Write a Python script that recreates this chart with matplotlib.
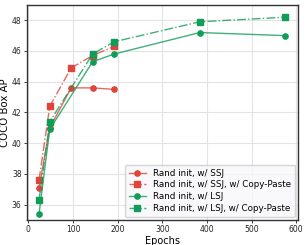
import matplotlib
matplotlib.use("Agg")
import matplotlib.pyplot as plt
from matplotlib.lines import Line2D
from matplotlib.legend_handler import HandlerTuple

epochs_ssj = [24, 48, 96, 144, 192]
ssj = [37.1, 41.0, 43.6, 43.6, 43.5]
ssj_cp = [37.6, 42.4, 44.9, 45.7, 46.3]
epochs_lsj = [24, 48, 144, 192, 384, 576]
lsj = [35.4, 40.9, 45.3, 45.8, 47.2, 47.0]
lsj_cp = [36.3, 41.4, 45.8, 46.6, 47.9, 48.2]

labels = ["Rand init, w/ SSJ", "Rand init, w/ SSJ, w/ Copy-Paste",
          "Rand init, w/ LSJ", "Rand init, w/ LSJ, w/ Copy-Paste"]
red = "#E0443A"
green = "#0F9D58"

fig = plt.figure(figsize=(3.07, 2.45), dpi=100)
ax = fig.add_axes([0.087, 0.102, 0.883, 0.878])

styles = [
    (epochs_ssj, ssj, red, "-", "o"),
    (epochs_ssj, ssj_cp, red, "-.", "s"),
    (epochs_lsj, lsj, green, "-", "o"),
    (epochs_lsj, lsj_cp, green, "-.", "s"),
]
handles = []
for xs, ys, c, ls, m in styles:
    ax.plot(xs, ys, color=c, linestyle=ls, linewidth=1.0, alpha=0.8)
    ax.plot(xs, ys, color=c, linestyle="none", marker=m, markersize=3.8)
    h_line = Line2D([], [], color=c, linestyle=ls, linewidth=1.0, alpha=0.8)
    h_mark = Line2D([], [], color=c, linestyle="none", marker=m, markersize=3.8)
    handles.append((h_line, h_mark))

ax.set_xlim(-3.6, 603.6)
ax.set_ylim(35.0, 49.0)
ax.set_xticks([0, 100, 200, 300, 400, 500, 600])
ax.set_yticks([36, 38, 40, 42, 44, 46, 48])
ax.grid(True, color="#e3e3e3", linewidth=0.8)
ax.set_axisbelow(True)
ax.tick_params(labelsize=5.5, length=2.5, width=0.6, pad=1.2, colors="#222222")
for s in ax.spines.values():
    s.set_color("#333333")
    s.set_linewidth(1.0)

ax.set_xlabel("Epochs", fontsize=7, labelpad=1.5)
ax.set_ylabel("COCO Box AP", fontsize=7.3)
ax.yaxis.set_label_coords(-0.06, 0.5)

leg = ax.legend(handles, labels, loc="lower right", fontsize=6.3, frameon=True,
                handlelength=2.0, borderpad=0.45, labelspacing=0.32,
                handletextpad=0.75, borderaxespad=0.35,
                handler_map={tuple: HandlerTuple(ndivide=1)})
leg.get_frame().set_edgecolor("#cccccc")
leg.get_frame().set_facecolor("#f8f8fa")

fig.savefig("out.png", dpi=100)
